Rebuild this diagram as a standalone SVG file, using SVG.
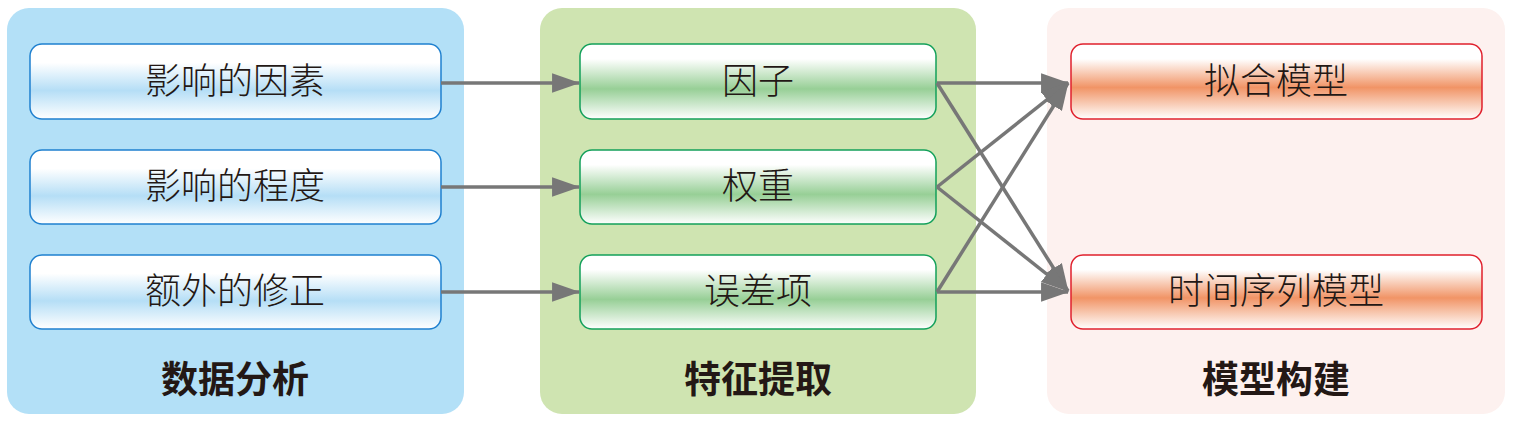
<svg xmlns="http://www.w3.org/2000/svg" width="1515" height="426" viewBox="0 0 1515 426">
<defs>
<linearGradient id="gb" x1="0" y1="0" x2="0" y2="1">
<stop offset="0" stop-color="#ffffff"/><stop offset="0.25" stop-color="#ffffff"/><stop offset="0.62" stop-color="#b5def6"/><stop offset="1" stop-color="#ffffff"/>
</linearGradient>
<linearGradient id="gg" x1="0" y1="0" x2="0" y2="1">
<stop offset="0" stop-color="#ffffff"/><stop offset="0.2" stop-color="#ffffff"/><stop offset="0.6" stop-color="#97cf96"/><stop offset="1" stop-color="#ffffff"/>
</linearGradient>
<linearGradient id="go" x1="0" y1="0" x2="0" y2="1">
<stop offset="0" stop-color="#ffffff"/><stop offset="0.2" stop-color="#ffffff"/><stop offset="0.58" stop-color="#f19466"/><stop offset="1" stop-color="#ffffff"/>
</linearGradient>
<marker id="ah" viewBox="0 0 26 18" refX="25" refY="9" markerWidth="8" markerHeight="5.6" markerUnits="strokeWidth" orient="auto">
<path d="M0,0 L26,9 L0,18 z" fill="#777777"/>
</marker>
</defs>
<style>
.panel{stroke:none}
.nb{fill:url(#gb);stroke:#1f80cf;stroke-width:1.5}
.ng{fill:url(#gg);stroke:#13a05a;stroke-width:1.5}
.no{fill:url(#go);stroke:#e0202d;stroke-width:1.5}
.lbl{font-family:"Noto Sans CJK SC",sans-serif;font-size:36px;font-weight:300;fill:#231815;text-anchor:middle}
.ttl{font-family:"Noto Sans CJK SC",sans-serif;font-size:37px;font-weight:700;fill:#231815;text-anchor:middle}
.cn{fill:none;stroke:#777777;stroke-width:3.5;marker-end:url(#ah)}
</style>
<g id="panel-data">
<rect class="panel" x="7" y="8" width="457" height="406" rx="22" fill="#b3e0f7"/>
<text class="ttl" x="235" y="393">数据分析</text>
</g>
<g id="panel-feature">
<rect class="panel" x="540" y="8" width="436" height="406" rx="22" fill="#cfe4b1"/>
<text class="ttl" x="758" y="393">特征提取</text>
</g>
<g id="panel-model">
<rect class="panel" x="1047" y="8" width="458" height="406" rx="22" fill="#fdf1ef"/>
<text class="ttl" x="1276" y="393">模型构建</text>
</g>
<g id="n1"><rect class="nb" x="30" y="44" width="411" height="75" rx="12"/><text class="lbl" x="235" y="94">影响的因素</text></g>
<g id="n2"><rect class="nb" x="30" y="150" width="411" height="74" rx="12"/><text class="lbl" x="235" y="199">影响的程度</text></g>
<g id="n3"><rect class="nb" x="30" y="255" width="411" height="74" rx="12"/><text class="lbl" x="235" y="304">额外的修正</text></g>
<g id="f1"><rect class="ng" x="580" y="44" width="356" height="75" rx="12"/><text class="lbl" x="758" y="94">因子</text></g>
<g id="f2"><rect class="ng" x="580" y="150" width="356" height="74" rx="12"/><text class="lbl" x="758" y="199">权重</text></g>
<g id="f3"><rect class="ng" x="580" y="255" width="356" height="74" rx="12"/><text class="lbl" x="758" y="304">误差项</text></g>
<g id="m1"><rect class="no" x="1071" y="44" width="411" height="75" rx="12"/><text class="lbl" x="1276" y="94">拟合模型</text></g>
<g id="m2"><rect class="no" x="1071" y="255" width="411" height="74" rx="12"/><text class="lbl" x="1276" y="304">时间序列模型</text></g>
<g id="connectors">
<line class="cn" x1="441" y1="83" x2="579" y2="83"/>
<line class="cn" x1="441" y1="187" x2="579" y2="187"/>
<line class="cn" x1="441" y1="292" x2="579" y2="292"/>
<line class="cn" x1="937" y1="83" x2="1068" y2="83"/>
<line class="cn" x1="937" y1="83" x2="1068" y2="291"/>
<line class="cn" x1="937" y1="187" x2="1068" y2="83"/>
<line class="cn" x1="937" y1="187" x2="1068" y2="291"/>
<line class="cn" x1="937" y1="292" x2="1068" y2="83"/>
<line class="cn" x1="937" y1="292" x2="1068" y2="292"/>
</g>
</svg>
